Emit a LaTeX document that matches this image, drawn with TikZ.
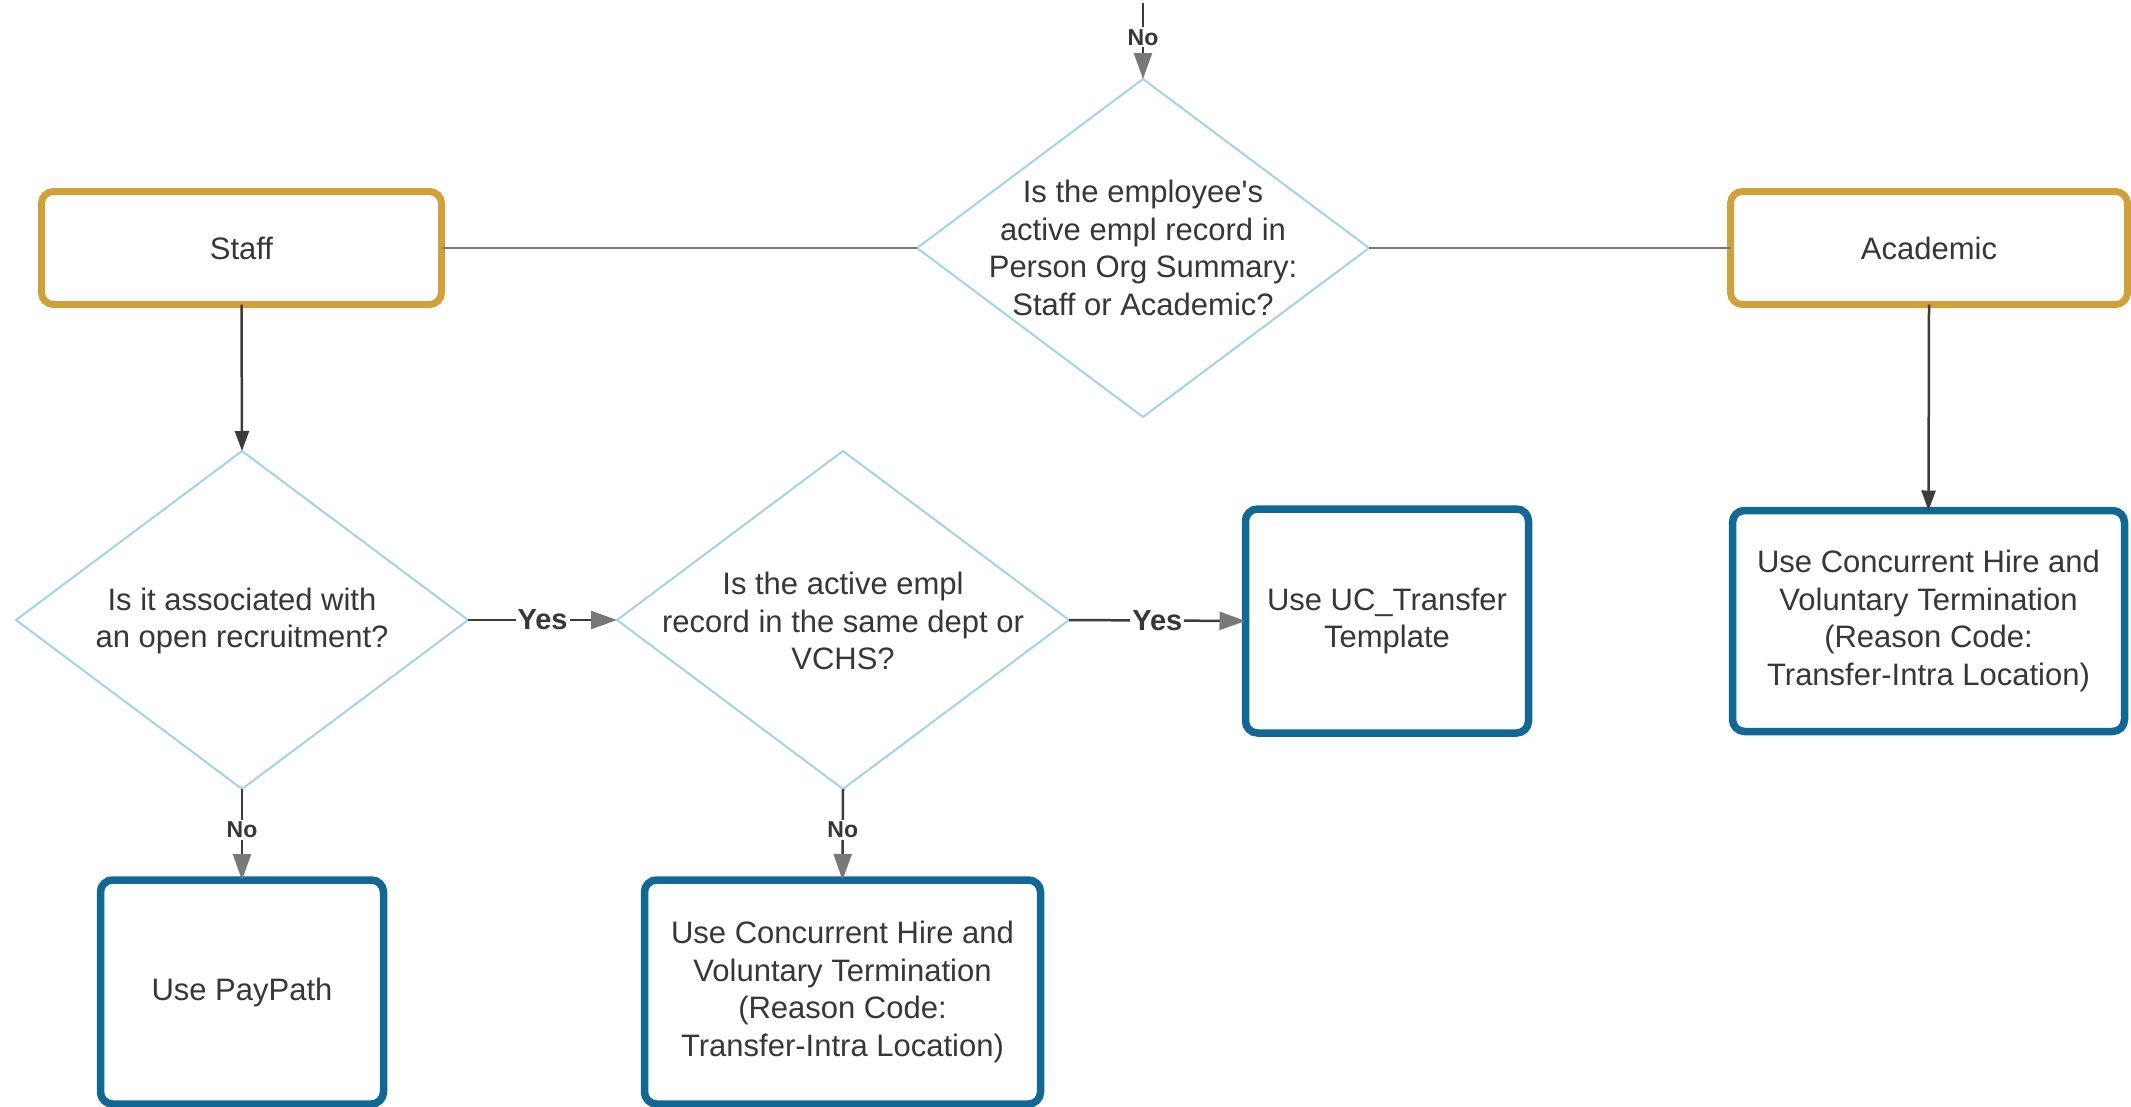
\documentclass[tikz,border=0pt]{standalone}
\usepackage{fontspec}
\setmainfont{Liberation Sans}[Ligatures=TeXOff]
\usetikzlibrary{shapes.geometric,arrows.meta}
\definecolor{goldc}{RGB}{208,160,58}
\definecolor{bluec}{RGB}{18,104,148}
\definecolor{diac}{RGB}{165,210,235}
\definecolor{txtc}{RGB}{55,55,55}
\definecolor{connc}{RGB}{60,60,60}
\definecolor{greyc}{RGB}{120,120,120}
\begin{document}
\begin{tikzpicture}[x=1pt,y=-1pt,
  txt/.style={font=\fontsize{31}{37.6}\selectfont, text=txtc, align=center, inner sep=0pt},
  goldbox/.style={rectangle, draw=goldc, line width=7pt, rounded corners=12pt, minimum width=400pt, minimum height=113pt, inner sep=0pt, outer sep=0pt, txt},
  bluebox/.style={rectangle, draw=bluec, line width=7.5pt, rounded corners=12pt, minimum height=224pt, inner sep=0pt, outer sep=0pt, txt},
  decision/.style={diamond, draw=diac, line width=2pt, minimum width=452pt, minimum height=338pt, inner sep=0pt, outer sep=0pt},
  darrow/.style={draw=connc, line width=2.5pt, -{Triangle[length=20pt,width=14pt]}},
  garrow/.style={draw=connc, line width=2.5pt, -{Triangle[length=26pt,width=18pt,fill=greyc,color=greyc]}},
  plainline/.style={draw=greyc, line width=2.5pt},
  yeslab/.style={font=\bfseries\fontsize{29}{31}\selectfont, text=txtc, fill=white, inner sep=2pt},
  nolab/.style={font=\bfseries\fontsize{23}{25}\selectfont, text=txtc, fill=white, inner sep=2pt}
]
\useasboundingbox (0,0) rectangle (2131,1106);
\fill[white] (0,0) rectangle (2131,1106);

% decisions
\node[decision] (q1) at (1143,248) {};
\node[txt] (q1t) at (1143,248) {Is the employee's\\active empl record in\\Person Org Summary:\\Staff or Academic?};
\node[decision] (q2) at (242,620) {};
\node[txt] (q2t) at (242,621) {Is it associated with\\an open recruitment?};
\node[decision] (q3) at (843,620) {};
\node[txt] (q3t) at (843,621) {Is the active empl\\record in the same dept or\\VCHS?};

% gold boxes
\node[goldbox] (staff) at (241.5,248) {Staff};
\node[goldbox, minimum width=397pt] (acad) at (1929,248) {Academic};

% blue boxes
\node[bluebox, minimum width=283pt] (uct) at (1387,621) {Use UC\_Transfer\\Template};
\node[bluebox, minimum width=392pt, minimum height=221pt] (acadres) at (1928.5,621) {Use Concurrent Hire and\\Voluntary Termination\\(Reason Code:\\Transfer-Intra Location)};
\node[bluebox, minimum width=283pt] (pp) at (242,992) {Use PayPath};
\node[bluebox, minimum width=396pt] (conc) at (842.5,992) {Use Concurrent Hire and\\Voluntary Termination\\(Reason Code:\\Transfer-Intra Location)};

% connectors
\coordinate (topin) at (1143,3);
\draw[garrow] (topin) -- node[nolab, pos=0.45] (notop) {No} (q1.north);
\draw[plainline] (q1.west) -- (staff.east);
\draw[plainline] (q1.east) -- (acad.west);
\draw[darrow] (staff.south) -- (q2.north);
\draw[darrow] (acad.south) -- (acadres.north);
\draw[garrow] (q2.east) -- node[yeslab] (yes1) {Yes} (q3.west);
\draw[garrow] (q3.east) -- node[yeslab] (yes2) {Yes} (uct.west);
\draw[garrow] (q2.south) -- node[nolab, pos=0.45] (no1) {No} (pp.north);
\draw[garrow] (q3.south) -- node[nolab, pos=0.45] (no2) {No} (conc.north);
\end{tikzpicture}
\end{document}
